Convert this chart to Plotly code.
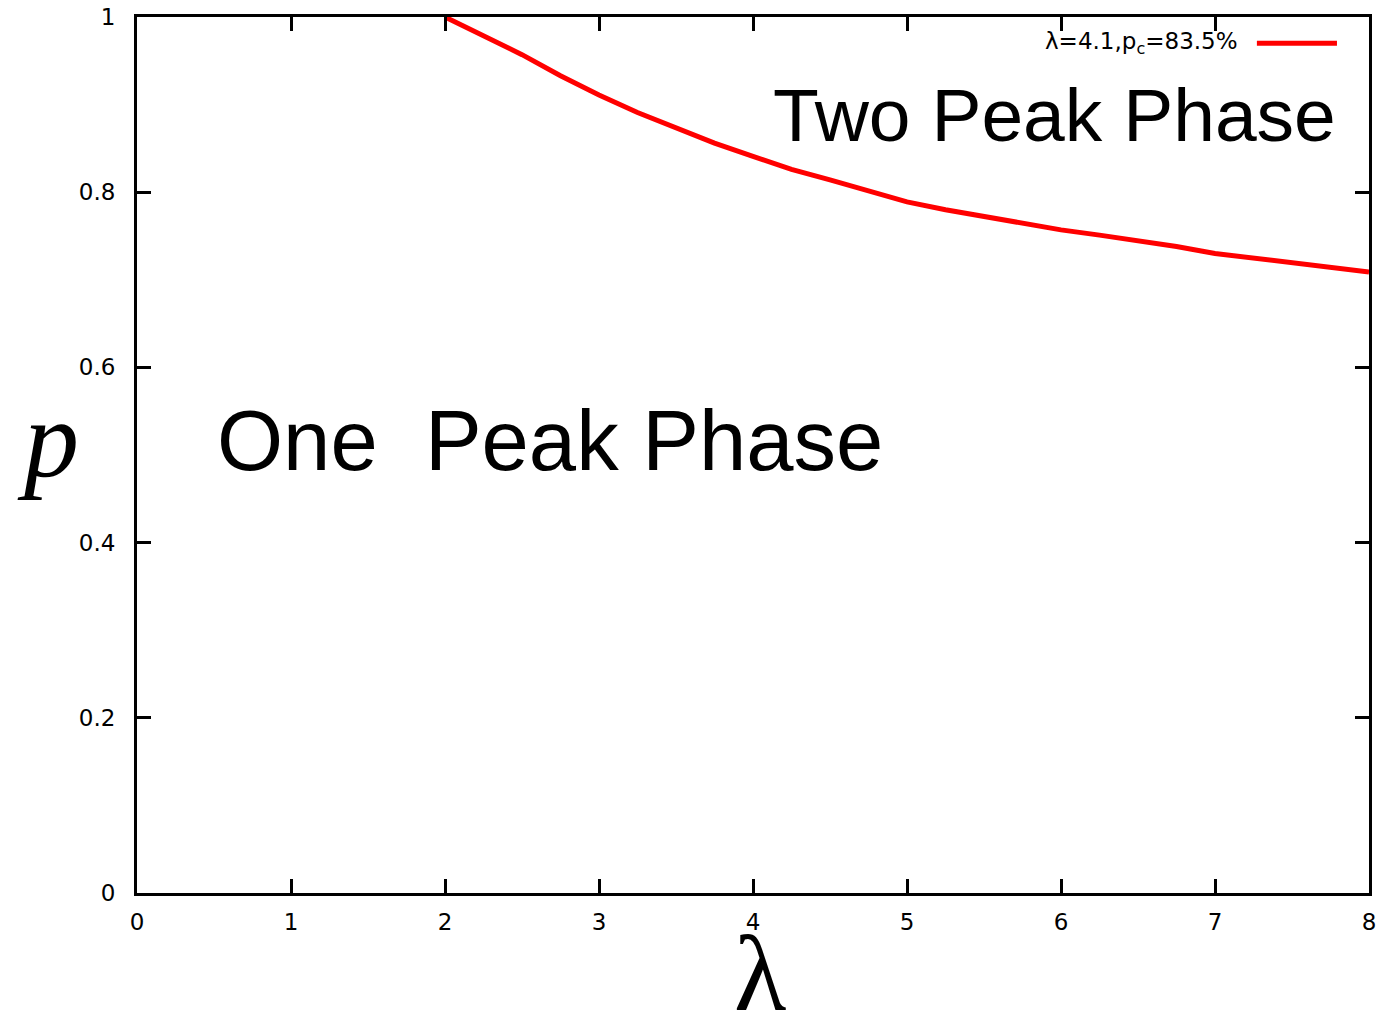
import plotly.graph_objects as go

# Data
lam = [2.0, 2.25, 2.5, 2.75, 3.0, 3.25, 3.5, 3.75, 4.0, 4.25, 4.5, 4.75, 5.0,
       5.25, 5.5, 5.75, 6.0, 6.25, 6.5, 6.75, 7.0, 7.25, 7.5, 7.75, 8.0]
p_c = [1.0, 0.979, 0.957, 0.933, 0.911, 0.891, 0.873, 0.856, 0.841, 0.826, 0.814,
       0.801, 0.789, 0.780, 0.772, 0.764, 0.757, 0.751, 0.745, 0.738, 0.730, 0.725,
       0.7195, 0.714, 0.709]
series_name = "λ=4.1,p<sub>c</sub>=83.5%"
x_ticks = [0, 1, 2, 3, 4, 5, 6, 7, 8]
y_ticks = [0, 0.2, 0.4, 0.6, 0.8, 1]
y_tick_text = ["0", "0.2", "0.4", "0.6", "0.8", "1"]

fig = go.Figure()
fig.add_trace(go.Scatter(x=lam, y=p_c, mode="lines", name=series_name,
                         line=dict(color="#ff0000", width=5), showlegend=False))

axis_common = dict(showline=True, linecolor="black", linewidth=3, mirror="ticks",
                   ticks="inside", ticklen=14, tickwidth=3, tickcolor="black",
                   showgrid=False, zeroline=False, automargin=False,
                   tickfont=dict(family="DejaVu Sans", size=23, color="black"))

fig.update_xaxes(range=[0, 8], tickvals=x_ticks, ticklabelstandoff=6, **axis_common)
fig.update_yaxes(range=[0, 1], tickvals=y_ticks, ticktext=y_tick_text,
                 ticklabelstandoff=14, **axis_common)

annotations = [
    dict(text="Two Peak Phase", x=0.745, y=0.888, xref="paper", yref="paper",
         xanchor="center", yanchor="middle", showarrow=False,
         font=dict(family="Liberation Sans", size=75, color="black")),
    dict(text="One\u00a0 Peak Phase", x=0.335, y=0.517, xref="paper", yref="paper",
         xanchor="center", yanchor="middle", showarrow=False,
         font=dict(family="Liberation Sans", size=85, color="black")),
    dict(text="<i>p</i>", x=-0.0722, y=0.517, xref="paper", yref="paper",
         xanchor="center", yanchor="middle", showarrow=False,
         font=dict(family="Liberation Serif", size=110, color="black")),
    dict(text="λ", x=0.506, y=-0.092, xref="paper", yref="paper",
         xanchor="center", yanchor="middle", showarrow=False,
         font=dict(family="Liberation Serif", size=108, color="black")),
    dict(text=series_name, x=0.895, y=0.970, xref="paper", yref="paper",
         xanchor="right", yanchor="middle", showarrow=False,
         font=dict(family="DejaVu Sans", size=23, color="black")),
]
fig.update_layout(
    width=1380, height=1019,
    margin=dict(l=137, r=11, t=17, b=126),
    plot_bgcolor="white", paper_bgcolor="white",
    annotations=annotations,
    shapes=[dict(type="line", xref="paper", yref="paper", x0=0.909, x1=0.974,
                 y0=0.970, y1=0.970, line=dict(color="#ff0000", width=5))],
)
fig.write_html("out.html", config={"displayModeBar": False},
               post_script="document.body.style.margin='0';")
